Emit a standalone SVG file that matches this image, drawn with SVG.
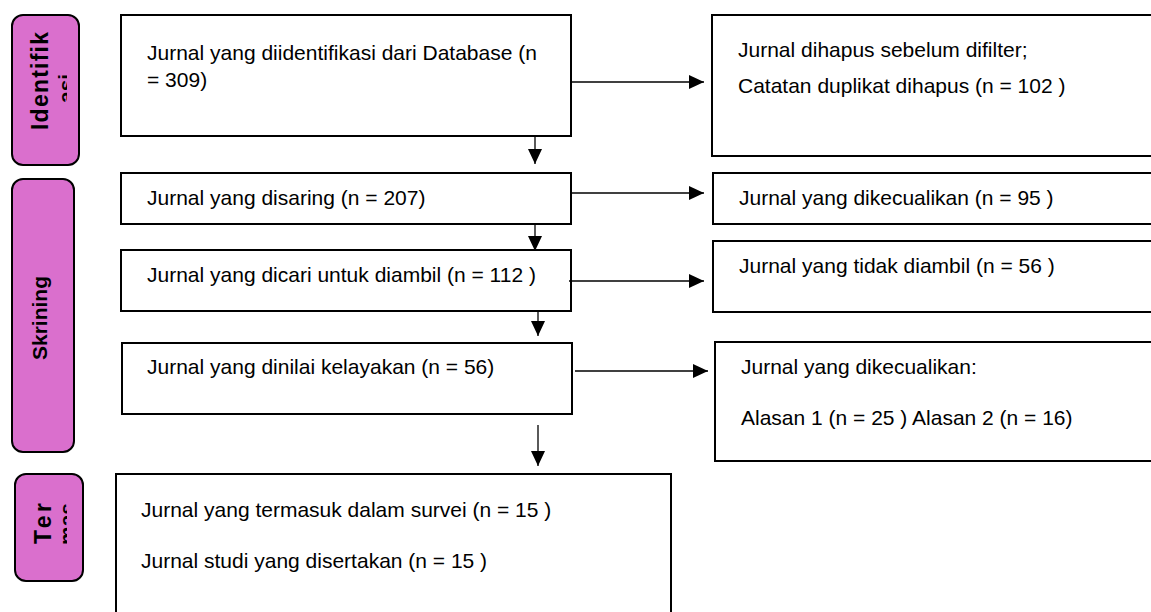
<svg xmlns="http://www.w3.org/2000/svg" width="1151" height="612" viewBox="0 0 1151 612">
<style>
.box{fill:#fff;stroke:#000;stroke-width:2}
.phase{fill:#DA6FCD;stroke:#000;stroke-width:2}
.t{font-family:"Liberation Sans",Arial,sans-serif;font-size:21px;fill:#000}
.pt{font-family:"Liberation Sans",Arial,sans-serif;font-size:21px;font-weight:bold;fill:#000}
.pl{font-size:23px}
.c{stroke:#000;stroke-width:1.3;fill:none;marker-end:url(#ah)}
</style>
<defs>
<marker id="ah" markerUnits="userSpaceOnUse" markerWidth="15" markerHeight="14" refX="15" refY="7" orient="auto">
<path d="M0,0 L15,7 L0,14 z" fill="#000"/>
</marker>
<clipPath id="cp1"><rect x="12" y="15" width="55" height="150"/></clipPath>
<clipPath id="cp3"><rect x="15" y="474" width="52" height="107"/></clipPath>
</defs>

<g id="phase-identifikasi">
<rect class="phase" x="12" y="15" width="67" height="150" rx="11"/>
<g clip-path="url(#cp1)">
<text class="pt pl" transform="translate(48,130) rotate(-90)" textLength="98" lengthAdjust="spacing">Identifik</text>
<text class="pt" transform="translate(73,103) rotate(-90)">asi</text>
</g>
</g>
<g id="phase-skrining">
<rect class="phase" x="12" y="179" width="62" height="273" rx="11"/>
<text class="pt" transform="translate(47,360) rotate(-90)">Skrining</text>
</g>
<g id="phase-termasuk">
<rect class="phase" x="15" y="474" width="68" height="107" rx="11"/>
<g clip-path="url(#cp3)">
<text class="pt pl" transform="translate(51,544) rotate(-90)" textLength="41" lengthAdjust="spacing">Ter</text>
<text class="pt" transform="translate(74,545) rotate(-90)">mas</text>
</g>
</g>

<g id="n-identified">
<rect class="box" x="121" y="15" width="450" height="121"/>
<text class="t" x="147" y="60">Jurnal yang diidentifikasi dari Database (n</text>
<text class="t" x="147" y="87">= 309)</text>
</g>
<g id="n-removed">
<rect class="box" x="712" y="15" width="450" height="141"/>
<text class="t" x="738" y="57">Jurnal dihapus sebelum difilter;</text>
<text class="t" x="738" y="93">Catatan duplikat dihapus (n = 102 )</text>
</g>
<g id="n-screened">
<rect class="box" x="121" y="173" width="450" height="51"/>
<text class="t" x="147" y="205">Jurnal yang disaring (n = 207)</text>
</g>
<g id="n-excluded1">
<rect class="box" x="713" y="173" width="450" height="51"/>
<text class="t" x="739" y="205">Jurnal yang dikecualikan (n = 95 )</text>
</g>
<g id="n-sought">
<rect class="box" x="121" y="250" width="450" height="61"/>
<text class="t" x="147" y="282">Jurnal yang dicari untuk diambil (n = 112 )</text>
</g>
<g id="n-notretrieved">
<rect class="box" x="713" y="241" width="450" height="71"/>
<text class="t" x="739" y="273">Jurnal yang tidak diambil (n = 56 )</text>
</g>
<g id="n-assessed">
<rect class="box" x="122" y="343" width="450" height="71"/>
<text class="t" x="147" y="374">Jurnal yang dinilai kelayakan (n = 56)</text>
</g>
<g id="n-excluded2">
<rect class="box" x="715" y="342" width="450" height="119"/>
<text class="t" x="741" y="374">Jurnal yang dikecualikan:</text>
<text class="t" x="741" y="425">Alasan 1 (n = 25 ) Alasan 2 (n = 16)</text>
</g>
<g id="n-included">
<rect class="box" x="116" y="474" width="555" height="150"/>
<text class="t" x="141" y="517">Jurnal yang termasuk dalam survei (n = 15 )</text>
<text class="t" x="141" y="568">Jurnal studi yang disertakan (n = 15 )</text>
</g>

<g id="connectors">
<line class="c" x1="535" y1="136" x2="535" y2="164"/>
<line class="c" x1="535" y1="224" x2="535" y2="251"/>
<line class="c" x1="538" y1="311" x2="538" y2="336"/>
<line class="c" x1="538" y1="425" x2="538" y2="466"/>
<line class="c" x1="572" y1="82" x2="704" y2="82"/>
<line class="c" x1="572" y1="193" x2="704" y2="193"/>
<line class="c" x1="569" y1="281" x2="704" y2="281"/>
<line class="c" x1="575" y1="371" x2="708" y2="371"/>
</g>
</svg>
